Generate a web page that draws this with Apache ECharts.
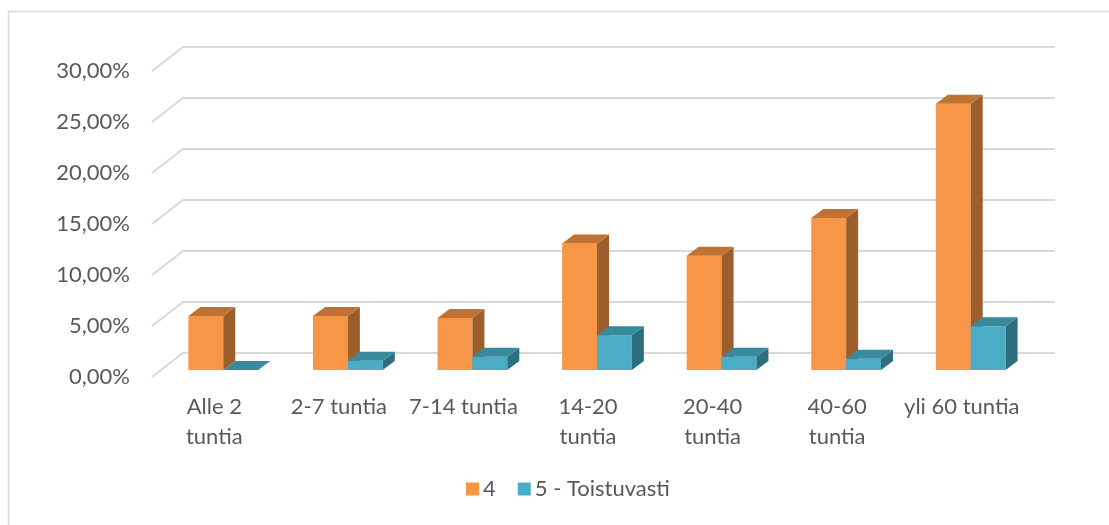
<!DOCTYPE html>
<html>
<head>
<meta charset="utf-8">
<script src="https://cdn.jsdelivr.net/npm/echarts@6/dist/echarts.min.js"></script>
<style>
html,body{margin:0;padding:0;background:#fff;}
#chart{width:1109px;height:525px;}
</style>
</head>
<body>
<div id="chart"></div>
<script>
const categories = ['Alle 2\ntuntia', '2-7 tuntia', '7-14 tuntia', '14-20\ntuntia', '20-40\ntuntia', '40-60\ntuntia', 'yli 60 tuntia'];
const seriesNames = ['4', '5 - Toistuvasti'];
const values4 = [5.3, 5.3, 5.1, 12.4, 11.2, 14.9, 26.1];
const values5 = [0, 0.9, 1.3, 3.4, 1.3, 1.1, 4.3];
const yTicks = [0, 5, 10, 15, 20, 25, 30];

const FONT = 'Lato';
const FS = 22;
const TEXT = '#595959';
// 3D depth offsets (front plane -> back wall), bar front / back positions
const WALL_DX = 31, WALL_DY = -24;
const BAR_FX = 9, BAR_FY = -7;
const BAR_BX = 21, BAR_BY = -16;

const palette = [
  {front: '#F79646', top: '#C07232', side: '#9C5F2B'},
  {front: '#4BACC6', top: '#388A9E', side: '#2F6E7F'}
];

function barRenderer(sideIdx) {
  const c = palette[sideIdx];
  return function (params, api) {
    const idx = api.value(0), v = api.value(1);
    const base = api.coord([idx, 0]);
    const top = api.coord([idx, v]);
    const w = api.size([1, 0])[0] * 0.28;
    const cx = base[0] + BAR_FX;
    const x0 = sideIdx === 0 ? cx - w : cx;
    const x1 = x0 + w;
    const yb = base[1] + BAR_FY, yt = top[1] + BAR_FY;
    const ox = BAR_BX - BAR_FX, oy = BAR_BY - BAR_FY;
    const children = [];
    if (yb - yt > 0.1) {
      children.push({type: 'rect', shape: {x: x0, y: yt, width: w, height: yb - yt},
        style: {fill: c.front}});
      children.push({type: 'polygon', shape: {points: [[x1, yt], [x1 + ox, yt + oy], [x1 + ox, yb + oy], [x1, yb]]},
        style: {fill: c.side}});
    }
    children.push({type: 'polygon', shape: {points: [[x0, yt], [x1, yt], [x1 + ox, yt + oy], [x0 + ox, yt + oy]]},
      style: {fill: c.top}});
    return {type: 'group', children: children};
  };
}

function gridRenderer(params, api) {
  const cs = params.coordSys;
  const y = api.coord([0, api.value(0)])[1];
  const left = cs.x, right = cs.x + cs.width;
  return {
    type: 'polyline',
    shape: {points: [[left, y], [left + WALL_DX, y + WALL_DY], [right + WALL_DX, y + WALL_DY]]},
    style: {stroke: '#D9D9D9', lineWidth: 2, fill: null}
  };
}

const chart = echarts.init(document.getElementById('chart'), null, {renderer: 'canvas'});
chart.setOption({
  animation: false,
  backgroundColor: '#fff',
  textStyle: {fontFamily: FONT},
  graphic: [{
    type: 'rect', z: -10,
    shape: {x: 8.5, y: 11.5, width: 1200, height: 600},
    style: {fill: null, stroke: '#D9D9D9', lineWidth: 1.5}
  }],
  grid: {left: 152, right: 85, top: 71, bottom: 148, containLabel: false, outerBoundsMode: 'none'},
  legend: {
    data: seriesNames,
    bottom: 20,
    left: 461,
    icon: 'rect',
    itemWidth: 13,
    itemHeight: 13,
    itemGap: 22,
    textStyle: {color: TEXT, fontFamily: FONT, fontSize: FS, padding: [0, 0, 0, -1]}
  },
  xAxis: {
    type: 'category',
    data: categories,
    axisLine: {show: false},
    axisTick: {show: false},
    splitLine: {show: false},
    axisLabel: {color: TEXT, fontFamily: FONT, fontSize: FS, lineHeight: 30, margin: 15, interval: 0}
  },
  yAxis: {
    type: 'value',
    min: 0, max: 30, interval: 5,
    axisLine: {show: false},
    axisTick: {show: false},
    splitLine: {show: false},
    axisLabel: {
      color: TEXT, fontFamily: FONT, fontSize: FS, margin: 22,
      formatter: v => v.toFixed(2).replace('.', ',') + '%'
    }
  },
  series: [
    {
      type: 'custom', name: 'grid', silent: true, z: 1,
      data: yTicks.map(v => [v]),
      encode: {y: 0},
      renderItem: gridRenderer
    },
    {
      type: 'custom', name: seriesNames[0], z: 2,
      itemStyle: {color: palette[0].front},
      data: values4.map((v, i) => [i, v]),
      encode: {x: 0, y: 1},
      renderItem: barRenderer(0)
    },
    {
      type: 'custom', name: seriesNames[1], z: 3,
      itemStyle: {color: palette[1].front},
      data: values5.map((v, i) => [i, v]),
      encode: {x: 0, y: 1},
      renderItem: barRenderer(1)
    }
  ]
});
</script>
</body>
</html>
